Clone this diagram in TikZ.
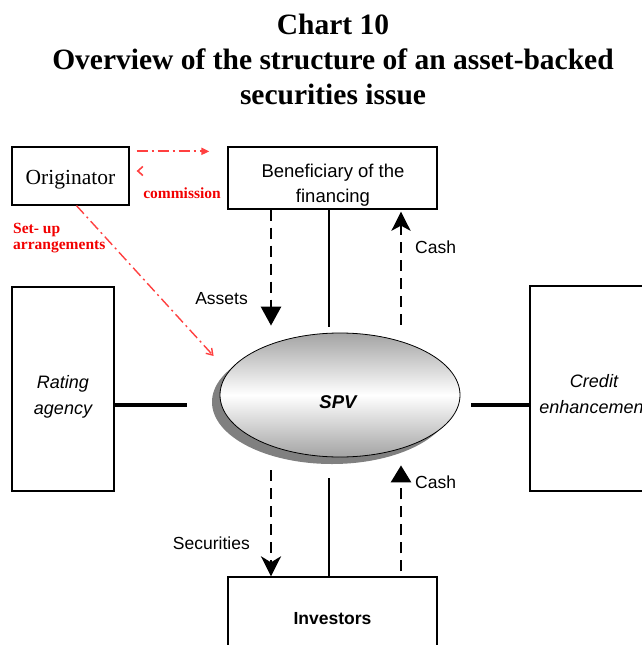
\documentclass[tikz,border=0pt]{standalone}
\usepackage{fontspec}
\setmainfont{Liberation Serif}
\setsansfont{Liberation Sans}
\usetikzlibrary{arrows.meta,shapes.geometric,shadows,positioning,calc}

\begin{document}
\begin{tikzpicture}
[x=1pt,y=-1pt,line cap=butt,
% Styles
box/.style={draw,line width=1.3pt,inner sep=0pt},
box text/.style={align=center,font=\sffamily\fontsize{18.5}{25}\selectfont},
flow/.style={line width=2.8pt,dash pattern=on 11pt off 7pt},
flow label/.style={font=\sffamily\fontsize{17.5}{20}\selectfont,inner sep=0pt},
stem/.style={line width=2.6pt},
link/.style={line width=4.5pt},
red line/.style={draw=redline,line width=2.2pt,dash pattern=on 11pt off 4pt on 2pt off 4pt},
red note/.style={text=notecolor,font=\bfseries\fontsize{15.5}{16}\selectfont,align=left,inner sep=0pt}]
% Colors
\colorlet{redline}{red!75}
\colorlet{notecolor}{red!95!black}
\colorlet{spvedge}{black!36}
% Frame
\useasboundingbox (0,0) rectangle (641,645);
% Title
\node[align=center,font=\bfseries\fontsize{29.5}{35}\selectfont] (title) at (333,59)
{Chart 10\\Overview of the structure of an asset-backed\\securities issue};
% Boxes
\node[box,minimum width=117pt,minimum height=58pt] (orig) at (70.5,176) {};
\node[font=\fontsize{21.5}{24}\selectfont] (orig text) at (70.5,180) {Originator};
\node[box,minimum width=209pt,minimum height=62pt] (benef) at (332.5,178) {};
\node[box text] (benef text) at (333,185) {Beneficiary of the\\financing};
\node[box,minimum width=102pt,minimum height=204pt] (rating) at (63,389) {};
\node[box text,font=\sffamily\itshape\fontsize{18}{26}\selectfont] (rating text) at (63,397) {Rating\\agency};
\node[box,minimum width=128pt,minimum height=205pt] (credit) at (594,388.5) {};
\node[box text,font=\sffamily\itshape\fontsize{18}{26}\selectfont] (credit text) at (594,394) {Credit\\enhancement};
\node[box,minimum width=209pt,minimum height=84pt,font=\sffamily\bfseries\fontsize{17.5}{20}\selectfont] (invest) at (332.5,619) {Investors};
% The SPV
\node[ellipse,draw,line width=0.8pt,minimum width=240pt,minimum height=124pt,
top color=spvedge,bottom color=spvedge,middle color=white,
drop shadow={shadow xshift=-8pt,shadow yshift=-7pt,fill=black!50,opacity=1}] (spv) at (340,395) {};
\node[font=\sffamily\bfseries\itshape\fontsize{18.5}{20}\selectfont] (spv text) at (338,402) {SPV};
% Columns
\coordinate (lcol) at (271,0);
\coordinate (mcol) at (329,0);
\coordinate (rcol) at (401,0);
\coordinate (mid) at (0,405);
% Upper flows
\draw[flow,-{Triangle[width=20pt,length=19pt]}] (benef.south -| lcol) -- ($(lcol |- spv.north)+(0,-7)$);
\draw[stem] (benef.south -| mcol) -- ($(mcol |- spv.north)+(0,-6)$);
\draw[flow,-{Stealth[width=19pt,length=19pt,inset=5pt]}] ($(rcol |- spv.north)+(0,-8)$) -- ($(benef.south -| rcol)+(0,2)$);
\node[flow label,anchor=east] (assets) at (248,299) {Assets};
\node[flow label,anchor=west] (cash up) at (415,247) {Cash};
% Side links
\draw[link] (rating.east |- mid) -- ++(72,0);
\draw[link] (credit.west |- mid) -- ++(-58,0);
% Lower flows
\draw[flow,-{Stealth[width=20pt,length=20pt,inset=6pt]}] ($(lcol |- spv.south)+(0,13)$) -- (invest.north -| lcol);
\draw[stem] ($(mcol |- spv.south)+(0,21)$) -- (invest.north -| mcol);
\draw[flow,-{Triangle[width=20pt,length=17pt]}] ($(invest.north -| rcol)+(0,-5)$) -- ($(rcol |- spv.south)+(0,8)$);
\node[flow label,anchor=east] (securities) at (250,543) {Securities};
\node[flow label,anchor=west] (cash down) at (415,482) {Cash};
% Originator arrangements
\draw[red line,-{Triangle[width=7pt,length=8pt]}] ($(orig.north east)+(7,5)$) -- ($(benef.north west)+(-18,5)$);
\draw[red line,line width=1.6pt,{Straight Barb[length=5pt,width=9pt]}-] ($(orig.east)+(7,-5)$) -- ++(1,0);
\draw[red line,line width=1.4pt,-{Straight Barb[length=6pt,width=8pt]}] ($(orig.south)+(6,0)$) -- ($(spv.west)+(-6,-39)$);
\node[red note] (commission) at (182,193) {commission};
\node[red note,anchor=north west] (setup) at (13,223) {Set- up\\arrangements};
\end{tikzpicture}
\end{document}
